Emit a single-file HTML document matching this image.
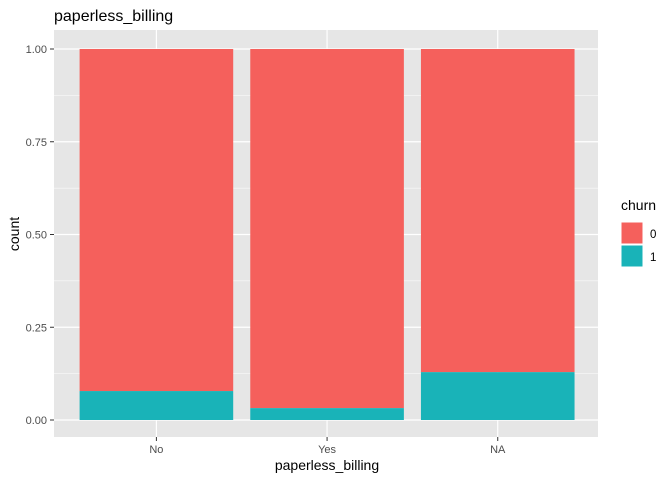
<!DOCTYPE html>
<html><head><meta charset="utf-8"><style>body{margin:0;background:#fff}svg{font-family:"Liberation Sans",sans-serif}</style></head>
<body>
<svg id="chart" width="672" height="480">
<text x="54" y="21" font-size="16" fill="#000">paperless_billing</text>
<rect x="54" y="30" width="544" height="407" fill="#e6e6e6"/>
<g id="grid"></g><g id="bars"></g><g id="axes"></g>
<text x="327" y="470" font-size="14" text-anchor="middle">paperless_billing</text>
<text transform="translate(19,234) rotate(-90)" font-size="14" text-anchor="middle">count</text>
<text x="621" y="210" font-size="14">churn</text>
<g><rect x="621" y="222" width="22" height="22" fill="#f5605c" stroke="#fff"/><text x="650" y="238" font-size="11.5" fill="#000">0</text></g>
<g><rect x="621" y="245" width="22" height="22" fill="#19b3b8" stroke="#fff"/><text x="650" y="261" font-size="11.5" fill="#000">1</text></g>
</svg>
<script>
const categories=["No","Yes","NA"];
const churn1=[0.078,0.032,0.129];
const churn0=[0.922,0.968,0.871];
const yTicks=[0,0.25,0.5,0.75,1];
const yLabels=["0.00","0.25","0.50","0.75","1.00"];
const NS="http://www.w3.org/2000/svg";
const y=v=>420-v*371;
const bw=170.67;
const x=i=>54+bw*(i+0.6);
function mk(p,t,a){const e=document.createElementNS(NS,t);for(const k in a)e.setAttribute(k,a[k]);p.appendChild(e);return e;}
const grid=document.getElementById('grid'),bars=document.getElementById('bars'),axes=document.getElementById('axes');
for(let i=0;i<yTicks.length-1;i++){const m=(yTicks[i]+yTicks[i+1])/2;
const g=mk(grid,'line',{x1:54,x2:598,y1:y(m),y2:y(m),stroke:'#fff','stroke-width':0.6});

}
yTicks.forEach((t,i)=>{
const g=mk(grid,'line',{x1:54,x2:598,y1:y(t),y2:y(t),stroke:'#fff','stroke-width':1.2});


mk(axes,'line',{x1:50,x2:54,y1:y(t),y2:y(t),stroke:'#333'});
const l=mk(axes,'text',{x:47,y:y(t)+4,'font-size':11,'text-anchor':'end',fill:'#4d4d4d'});l.textContent=yLabels[i];

});
categories.forEach((c,i)=>{
const g=mk(grid,'line',{x1:x(i),x2:x(i),y1:30,y2:437,stroke:'#fff','stroke-width':1.2});


const w=bw*0.9,l0=x(i)-w/2;
const a=mk(bars,'rect',{x:l0,y:y(churn1[i]+churn0[i]),width:w,height:y(churn1[i])-y(churn1[i]+churn0[i]),fill:'#f5605c'});


const b=mk(bars,'rect',{x:l0,y:y(churn1[i]),width:w,height:y(0)-y(churn1[i]),fill:'#19b3b8'});


mk(axes,'line',{x1:x(i),x2:x(i),y1:437,y2:441,stroke:'#333'});
const t=mk(axes,'text',{x:x(i),y:453,'font-size':11,'text-anchor':'middle',fill:'#4d4d4d'});t.textContent=c;

});
</script>
</body></html>
